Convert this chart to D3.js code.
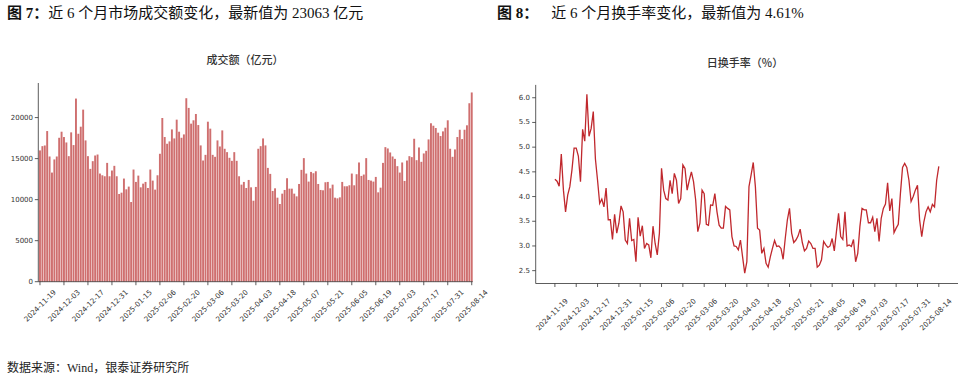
<!DOCTYPE html>
<html><head><meta charset="utf-8">
<script src="https://cdn.jsdelivr.net/npm/d3@7"></script>
<style>
body{margin:0;background:#fff;}
svg{display:block;}
</style></head>
<body>
<svg id="c" width="970" height="382"></svg>
<script>
const tickLabels = ["2024-11-19","2024-12-03","2024-12-17","2024-12-31","2025-01-15","2025-02-06","2025-02-20","2025-03-06","2025-03-20","2025-04-03","2025-04-18","2025-05-07","2025-05-21","2025-06-05","2025-06-19","2025-07-03","2025-07-17","2025-07-31","2025-08-14"];
const turnover = [16000,16520,16600,18360,15260,13300,14900,15260,17540,18280,17630,16970,15300,18200,16650,22320,18030,18890,20970,17220,
15300,13750,14690,15380,15500,13180,12970,12850,14480,12850,13550,14120,12850,10690,10850,12570,11260,11590,9710,13670,
12160,12930,11500,11950,12160,11420,13670,12320,11220,12970,15590,19950,17630,16810,17100,18560,17460,19750,18280,17540,
17950,22360,21180,19260,19670,20440,19090,16610,14770,15460,19500,18650,15460,15220,17220,16480,18440,16200,15790,15100,
14730,15790,14730,12850,11830,12160,11420,12400,11500,9870,11550,16200,16520,17460,16610,13870,13140,11060,11380,10240,
9470,10730,11180,12610,11340,11340,10730,10400,11910,13630,15060,13180,12200,13380,13220,13460,11910,11180,11140,12120,
12160,11380,11830,10240,10160,10280,12160,11630,11630,11750,13180,11750,13100,14530,12890,13060,15060,12400,12320,12200,
12770,10890,11460,14480,16400,16240,15750,15260,14970,14080,13300,14530,12280,14770,15300,15180,17420,14810,16360,14610,
15630,15950,17340,19310,19010,18730,18160,17750,18320,18770,19670,16200,15220,16120,17630,18520,17380,18520,19060,21750,23063];
const turnoverRate = [4.35,4.31,4.21,4.86,4.13,3.69,4.03,4.2,4.54,4.98,4.98,4.82,4.3,5.36,5.12,6.07,5.22,5.38,5.72,4.76,
4.33,3.86,3.95,3.79,4.17,3.53,3.53,3.13,3.64,3.26,3.46,3.81,3.69,3.12,3.05,3.56,3.11,3.13,2.68,3.58,
3.2,3.41,2.95,3.05,3.02,2.76,3.4,3.05,2.82,3.26,4.57,4.13,3.96,3.93,4.33,4.06,4.47,4.33,3.86,3.96,
4.64,4.57,4.13,4.33,4.5,4.3,3.93,3.29,3.46,4.13,4.06,3.44,3.42,3.83,3.82,4.06,3.69,3.42,3.36,3.36,
3.8,3.76,3.73,3.19,3.0,2.99,2.92,3.12,2.78,2.45,2.68,4.2,4.44,4.69,4.2,3.36,3.32,2.85,2.95,2.65,
2.57,2.78,2.95,3.11,2.99,3.0,2.95,2.73,3.15,3.53,3.76,3.26,3.07,3.12,3.2,3.34,3.07,2.9,2.95,3.1,
3.05,2.95,2.95,2.57,2.61,2.72,3.09,3.02,2.97,3.0,3.15,2.9,3.29,3.66,3.19,3.13,3.69,3.0,3.02,2.99,
3.13,2.68,2.85,3.39,3.76,3.73,3.73,3.47,3.47,3.58,3.29,3.56,3.09,3.56,3.76,3.85,4.28,3.71,3.96,3.27,
3.36,3.44,4.06,4.59,4.67,4.59,4.33,3.9,4.0,4.13,4.23,3.53,3.19,3.49,3.69,3.79,3.69,3.84,3.79,4.33,4.61];
const leftYTicks = [0,5000,10000,15000,20000];
const rightYTicks = [2.5,3.0,3.5,4.0,4.5,5.0,5.5,6.0];
const tickEvery = 10;

const svg = d3.select("#c");
const axisColor = "#333";
const sans = "'DejaVu Sans', sans-serif";
const serif = "'Liberation Serif','Noto Sans CJK SC',serif";

function heading(x, bold, rest, gap){
  const t = svg.append("text").attr("x",x).attr("y",18).attr("font-family",serif).attr("font-size",15).attr("fill","#111");
  t.append("tspan").attr("font-weight","bold").text(bold);
  t.append("tspan").attr("dx",gap).text(rest);
}
heading(7, "图 7：", "近 6 个月市场成交额变化，最新值为 23063 亿元", 0);
heading(497, "图 8：", "近 6 个月换手率变化，最新值为 4.61%", 13);
svg.append("text").attr("x",7).attr("y",372).attr("font-family",serif).attr("font-size",12).attr("fill","#222")
  .text("数据来源：Wind，银泰证券研究所");

function xAxisLabels(g, x, yTop, dy, dx){
  tickLabels.forEach((lab,k)=>{
    const i = k*tickEvery;
    g.append("line").attr("x1",x(i)).attr("x2",x(i)).attr("y1",yTop).attr("y2",yTop+3.5).attr("stroke",axisColor).attr("stroke-width",0.8);
    g.append("text").attr("transform",`translate(${x(i)+dx},${yTop+dy}) rotate(-45)`)
      .attr("text-anchor","middle").attr("dominant-baseline","central")
      .attr("font-family",sans).attr("font-size",7.2).attr("fill","#333").text(lab);
  });
}

// ---- Left chart: bars
{
  const g = svg.append("g");
  const x = d3.scaleLinear().domain([-0.7,180.4]).range([38.3,472.7]);
  const y = d3.scaleLinear().domain([0,24216]).range([281.7,83]);
  const bw = (x(1)-x(0))*0.8;
  g.selectAll("rect").data(turnover).join("rect")
    .attr("x",(d,i)=>x(i)-bw/2).attr("width",bw)
    .attr("y",d=>y(d)).attr("height",d=>y(0)-y(d))
    .attr("fill","#cf6f6f");
  g.append("line").attr("x1",38.3).attr("x2",38.3).attr("y1",83).attr("y2",281.7).attr("stroke",axisColor).attr("stroke-width",0.8);
  g.append("line").attr("x1",38.3).attr("x2",472.7).attr("y1",281.7).attr("y2",281.7).attr("stroke",axisColor).attr("stroke-width",0.8);
  leftYTicks.forEach(v=>{
    g.append("line").attr("x1",38.3).attr("x2",34.8).attr("y1",y(v)).attr("y2",y(v)).attr("stroke",axisColor).attr("stroke-width",0.8);
    g.append("text").attr("x",33).attr("y",y(v)).attr("text-anchor","end").attr("dominant-baseline","central")
      .attr("font-family",sans).attr("font-size",7).attr("fill","#333").text(v);
  });
  xAxisLabels(g, x, 281.7, 24, 0);
  g.append("text").attr("x",245).attr("y",64).attr("text-anchor","middle").attr("font-family","'Noto Sans CJK SC',sans-serif")
    .attr("font-size",11).attr("font-weight",500).attr("fill","#333").text("成交额（亿元）");
}

// ---- Right chart: line
{
  const g = svg.append("g");
  const x = d3.scaleLinear().domain([-9,189]).range([535.7,958]);
  const y = d3.scaleLinear().domain([2.24,6.26]).range([283.5,84.9]);
  g.append("path").datum(turnoverRate).attr("fill","none").attr("stroke","#c0282d").attr("stroke-width",1.3)
    .attr("d", d3.line().x((d,i)=>x(i)).y(d=>y(d)));
  g.append("line").attr("x1",535.7).attr("x2",535.7).attr("y1",84.9).attr("y2",283.5).attr("stroke",axisColor).attr("stroke-width",0.8);
  g.append("line").attr("x1",535.7).attr("x2",958).attr("y1",283.5).attr("y2",283.5).attr("stroke",axisColor).attr("stroke-width",0.8);
  rightYTicks.forEach(v=>{
    g.append("line").attr("x1",535.7).attr("x2",532.2).attr("y1",y(v)).attr("y2",y(v)).attr("stroke",axisColor).attr("stroke-width",0.8);
    g.append("text").attr("x",530).attr("y",y(v)).attr("text-anchor","end").attr("dominant-baseline","central")
      .attr("font-family",sans).attr("font-size",7).attr("fill","#333").text(v.toFixed(1));
  });
  xAxisLabels(g, x, 283.5, 31, -3);
  g.append("text").attr("x",745).attr("y",67).attr("text-anchor","middle").attr("font-family","'Noto Sans CJK SC',sans-serif")
    .attr("font-size",11).attr("font-weight",500).attr("fill","#333").text("日换手率（%）");
}
</script>
</body></html>
